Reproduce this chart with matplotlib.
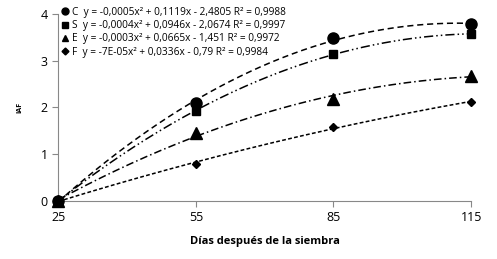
import matplotlib
matplotlib.use("Agg")
import matplotlib.pyplot as plt
import numpy as np
from matplotlib.lines import Line2D

plt.rcParams['font.family'] = ['Open Sans', 'DejaVu Sans']

dias = [25, 55, 85, 115]
names = ["C", "S", "E", "F"]
iaf_C = [0.0, 2.10, 3.49, 3.78]
iaf_S = [0.0, 1.92, 3.15, 3.57]
iaf_E = [0.0, 1.45, 2.19, 2.68]
iaf_F = [0.0, 0.80, 1.58, 2.12]
equations = [
    "y = -0,0005x² + 0,1119x - 2,4805 R² = 0,9988",
    "y = -0,0004x² + 0,0946x - 2,0674 R² = 0,9997",
    "y = -0,0003x² + 0,0665x - 1,451 R² = 0,9972",
    "y = -7E-05x² + 0,0336x - 0,79 R² = 0,9984",
]

series = [iaf_C, iaf_S, iaf_E, iaf_F]
markers = ["o", "s", "^", "D"]
msizes = [8, 6, 8, 4]
dashes = [(4, 2.5), (6, 2, 1, 2, 1, 2), (5, 2, 1, 2), (2.5, 1.5)]

fig = plt.figure(figsize=(4.97, 2.59), dpi=100)
ax = fig.add_axes([0.117, 0.224, 0.831, 0.722])

xs = np.linspace(25, 115, 200)
handles = []
for name, vals, m, ms, d, eq in zip(names, series, markers, msizes, dashes, equations):
    coef = np.polyfit(dias, vals, 2)
    ax.plot(xs, np.polyval(coef, xs), color="black", lw=1.1, dashes=d)
    ax.plot(dias, vals, linestyle="none", marker=m, ms=ms, color="black", clip_on=False, zorder=5)
    handles.append(Line2D([], [], linestyle="none", marker=m, ms=5 if m != "D" else 3.5,
                          color="black", label=f"{name}  {eq}"))

ax.set_xlim(25, 115)
ax.set_ylim(0, 4)
ax.set_xticks(dias)
ax.set_yticks([0, 1, 2, 3, 4])
for s in ["top", "right"]:
    ax.spines[s].set_visible(False)
for s in ["left", "bottom"]:
    ax.spines[s].set_color("#888888")
ax.tick_params(colors="#888888", labelcolor="black", labelsize=9, length=4, width=0.8)
ax.set_xlabel("Días después de la siembra", fontsize=8, fontweight="bold", labelpad=8)
ax.set_ylabel("IAF", fontsize=5, fontweight="bold", labelpad=12)

ax.legend(handles=handles, loc="upper left", bbox_to_anchor=(-0.005, 1.07), frameon=False,
          fontsize=7.3, handlelength=0.6, handletextpad=0.4, labelspacing=0.22,
          borderaxespad=0.2)

fig.savefig("out.png", dpi=100)
